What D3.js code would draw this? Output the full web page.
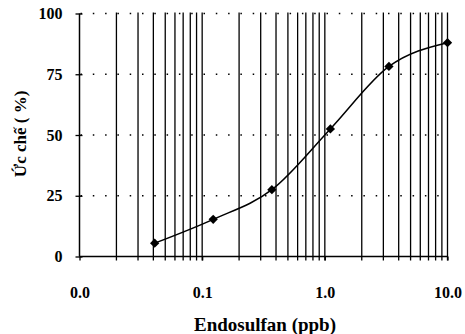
<!DOCTYPE html>
<html lang="en">
<head>
<meta charset="UTF-8">
<title>Endosulfan</title>
<script src="https://d3js.org/d3.v7.min.js"></script>
<style>
body{margin:0;background:#fff;}
svg{display:block;}
svg text{font-family:"Liberation Serif","Times New Roman",serif;font-weight:bold;fill:#000;}
.grid-v line{stroke:#000;stroke-width:1.3;}
.grid-h line{stroke:#000;stroke-width:1.3;stroke-dasharray:1.5,10.8;}
</style>
</head>
<body>
<svg id="chart" width="465" height="334"></svg>
<script>
// concentrations (ppb) and inhibition (%)
const dose = [0.041, 0.123, 0.37, 1.11, 3.33, 10];
const inhibition = [5.5, 15.3, 27.5, 52.5, 78.2, 88];
const yTicks = [0, 25, 50, 75, 100];
const xTicks = [0.01, 0.1, 1, 10];
const xTickLabels = ["0.0", "0.1", "1.0", "10.0"];

const svg = d3.select("#chart");
const mLeft = 79.5, mRight = 447.5, mTop = 13.5, mBottom = 256.5;

const x = d3.scaleLog().domain([0.01, 10]).range([mLeft, mRight]);
const y = d3.scaleLinear().domain([0, 100]).range([mBottom, mTop]);

// log minor grid, every 1..9 of each decade
const minor = [];
[0.01, 0.1, 1].forEach(d => { for (let k = 2; k <= 10; k++) minor.push(+(d * k).toFixed(4)); });

svg.append("g").attr("class", "grid-v")
  .selectAll("line").data(minor).join("line")
  .attr("x1", d => x(d)).attr("x2", d => x(d))
  .attr("y1", mTop - 1).attr("y2", mBottom + 4);

svg.append("g").attr("class", "grid-h")
  .selectAll("line").data(yTicks.filter(d => d > 0)).join("line")
  .attr("x1", mLeft + 1).attr("x2", mRight)
  .attr("y1", d => y(d)).attr("y2", d => y(d));

// axes
const yAxis = svg.append("g").attr("transform", `translate(${mLeft},0)`)
  .call(d3.axisLeft(y).tickValues(yTicks).tickSize(4).tickPadding(13));
yAxis.attr("font-family", null);
yAxis.select(".domain").attr("d", `M0,${mTop}V${mBottom}`).attr("stroke-width", 1.5);
yAxis.selectAll(".tick line").attr("x2", 3).attr("x1", -4).attr("stroke-width", 1.3);
yAxis.selectAll(".tick text").attr("font-size", 16);

const xAxis = svg.append("g").attr("transform", `translate(0,${mBottom})`)
  .call(d3.axisBottom(x).tickValues(xTicks).tickFormat((d, i) => xTickLabels[i]).tickSize(4).tickPadding(26));
xAxis.attr("font-family", null);
xAxis.select(".domain").attr("d", `M${mLeft},0H${mRight}`).attr("stroke-width", 1.5);
xAxis.selectAll(".tick line").attr("stroke-width", 1.3);
xAxis.selectAll(".tick text").attr("font-size", 16);

// data
const pts = dose.map((d, i) => [x(d), y(inhibition[i])]);
svg.append("path")
  .attr("d", d3.line().curve(d3.curveMonotoneX)(pts))
  .attr("fill", "none").attr("stroke", "#000").attr("stroke-width", 1.5);

svg.append("g").selectAll("path").data(pts).join("path")
  .attr("d", d3.symbol(d3.symbolDiamond2, 55))
  .attr("transform", d => `translate(${d[0]},${d[1]})`)
  .attr("fill", "#000");

// titles
svg.append("text").attr("x", 265).attr("y", 331)
  .attr("text-anchor", "middle").attr("font-size", 19).text("Endosulfan (ppb)");
svg.append("text").attr("transform", "translate(26,134) rotate(-90)")
  .attr("text-anchor", "middle").attr("font-size", 17).text("Ức chế ( %)");
</script>
</body>
</html>
